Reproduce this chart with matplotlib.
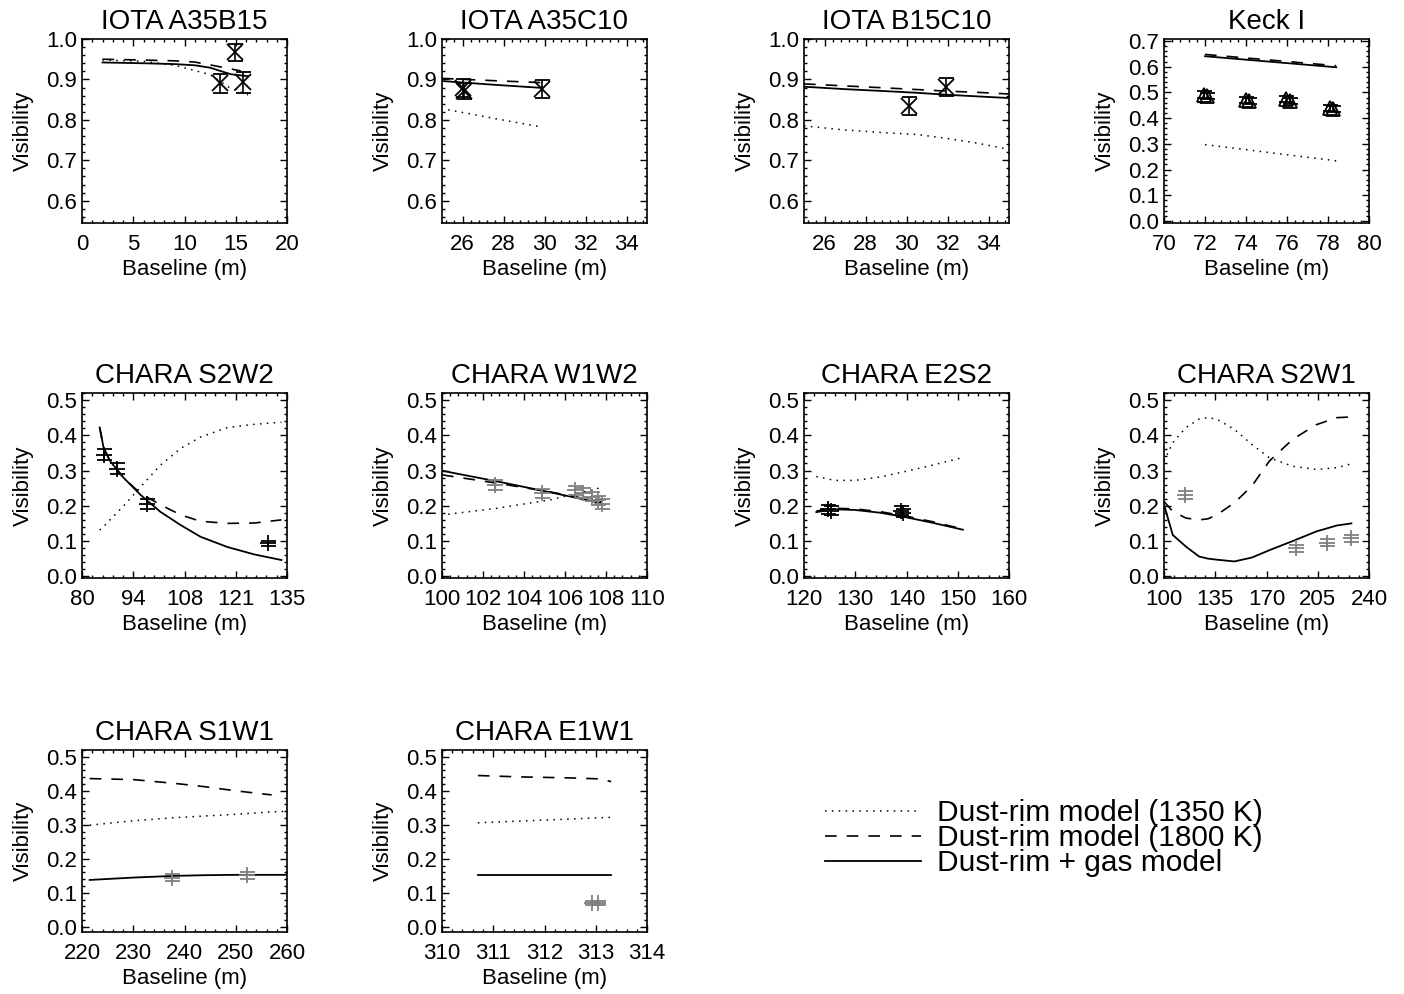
import numpy as np
import matplotlib
matplotlib.use("Agg")
import matplotlib.pyplot as plt
from matplotlib.ticker import AutoMinorLocator
from matplotlib.lines import Line2D

plt.rcParams['font.family'] = ['Liberation Sans', 'DejaVu Sans']

nan = np.nan

# ---------------- data ----------------
# each panel: model baseline grid, three model curves, then measured points
# dot = dust-rim 1350 K, dash = dust-rim 1800 K, gas = dust-rim + gas

# IOTA A35B15
a35b15_grid = [2, 6, 9, 11, 12.5, 13.5, 14.5, 15.5, 16.2]
a35b15_dot = [0.948, 0.945, 0.935, 0.922, 0.912, 0.895, 0.878, 0.868, 0.862]
a35b15_dash = [0.950, 0.948, 0.946, 0.943, 0.936, 0.931, 0.926, 0.921, nan]
a35b15_gas = [0.942, 0.940, 0.938, 0.935, 0.929, 0.921, 0.913, 0.910, 0.908]
a35b15_b = [13.5, 14.9, 15.7]
a35b15_v = [0.890, 0.967, 0.893]
a35b15_e = [0.023, 0.021, 0.026]

# IOTA A35C10
a35c10_grid = [25.0, 25.3, 27.5, 29.9]
a35c10_dot = [nan, 0.825, 0.804, 0.782]
a35c10_dash = [0.9025, 0.902, 0.897, 0.892]
a35c10_gas = [0.896, 0.895, 0.887, 0.879]
a35c10_b = [26.0, 26.05, 29.9]
a35c10_v = [0.878, 0.872, 0.877]
a35c10_e = [0.022, 0.020, 0.022]

# IOTA B15C10
b15c10_grid = [25, 27, 29, 30.5, 32, 33.5, 35]
b15c10_dot = [0.785, 0.775, 0.768, 0.764, 0.754, 0.742, 0.727]
b15c10_dash = [0.889, 0.884, 0.879, 0.875, 0.871, 0.868, 0.864]
b15c10_gas = [0.882, 0.876, 0.871, 0.867, 0.862, 0.858, 0.854]
b15c10_b = [30.13, 31.93]
b15c10_v = [0.835, 0.882]
b15c10_e = [0.022, 0.022]

# Keck I
keck_grid = [72.0, 78.4]
keck_dot = [0.297, 0.234]
keck_dash = [0.648, 0.604]
keck_gas = [0.641, 0.598]
keck_b = [71.95, 72.1, 74.0, 74.15, 75.95, 76.15, 78.1, 78.25]
keck_v = [0.492, 0.486, 0.470, 0.468, 0.474, 0.466, 0.438, 0.436]
keck_e = [0.012, 0.012, 0.012, 0.012, 0.012, 0.012, 0.012, 0.012]

# CHARA S2W2
s2w2_grid = [84.75, 85.8, 87.6, 91.2, 95.7, 101, 106.5, 111.8, 119, 126.2, 133.5]
s2w2_dot = [0.131, 0.141, 0.161, 0.200, 0.253, 0.315, 0.363, 0.395, 0.422, 0.431, 0.437]
s2w2_dash = [0.422, 0.364, 0.326, 0.279, 0.235, 0.203, 0.174, 0.156, 0.150, 0.151, 0.160]
s2w2_gas = [0.422, 0.364, 0.326, 0.279, 0.231, 0.183, 0.145, 0.112, 0.083, 0.062, 0.046]
s2w2_b = [85.9, 89.4, 97.4, 129.8]
s2w2_v = [0.345, 0.305, 0.205, 0.093]
s2w2_e = [0.016, 0.016, 0.015, 0.008]

# CHARA W1W2
w1w2_grid = [100.0, 100.3, 102.7, 105.3, 107.8]
w1w2_dot = [nan, 0.176, 0.193, 0.217, 0.252]
w1w2_dash = [0.288, 0.285, 0.264, 0.239, 0.211]
w1w2_gas = [0.300, 0.296, 0.269, 0.238, 0.207]
w1w2_b = [102.6, 104.9, 106.5, 106.9, 107.3, 107.6, 107.8]
w1w2_v = [0.259, 0.235, 0.244, 0.236, 0.226, 0.216, 0.205]
w1w2_e = [0.013, 0.013, 0.013, 0.013, 0.013, 0.013, 0.013]

# CHARA E2S2
e2s2_grid = [122.4, 126, 130, 135, 140, 145, 151]
e2s2_dot = [0.283, 0.272, 0.272, 0.282, 0.298, 0.315, 0.337]
e2s2_dash = [0.185, 0.193, 0.191, 0.183, 0.170, 0.155, 0.134]
e2s2_gas = [0.182, 0.190, 0.188, 0.180, 0.167, 0.152, 0.132]
e2s2_b = [124.7, 125.2, 139.0, 139.3]
e2s2_v = [0.190, 0.186, 0.186, 0.180]
e2s2_e = [0.012, 0.012, 0.012, 0.012]

# CHARA S2W1
s2w1_grid = [100, 106, 115, 124, 130, 136, 148, 160, 172, 188, 204, 218, 228]
s2w1_dot = [0.327, 0.379, 0.422, 0.446, 0.450, 0.446, 0.417, 0.374, 0.336, 0.312, 0.303, 0.308, 0.319]
s2w1_dash = [0.212, 0.184, 0.165, 0.160, 0.163, 0.174, 0.208, 0.256, 0.327, 0.389, 0.430, 0.450, 0.452]
s2w1_gas = [0.203, 0.117, 0.084, 0.056, 0.050, 0.047, 0.042, 0.053, 0.074, 0.100, 0.127, 0.144, 0.150]
s2w1_b = [114.6, 190.4, 211.0, 228.0]
s2w1_v = [0.231, 0.079, 0.095, 0.108]
s2w1_e = [0.012, 0.010, 0.010, 0.010]

# CHARA S1W1
s1w1_grid = [221.5, 230, 238, 244, 250, 257, 260]
s1w1_dot = [0.299, 0.312, 0.321, 0.326, 0.331, 0.338, 0.340]
s1w1_dash = [0.436, 0.433, 0.422, 0.412, 0.400, 0.388, nan]
s1w1_gas = [0.138, 0.145, 0.150, 0.152, 0.153, 0.153, 0.153]
s1w1_b = [237.5, 252.1]
s1w1_v = [0.145, 0.152]
s1w1_e = [0.010, 0.010]

# CHARA E1W1
e1w1_grid = [310.7, 311.5, 312.5, 313.1, 313.3]
e1w1_dot = [0.306, 0.311, 0.317, 0.321, 0.322]
e1w1_dash = [0.445, 0.441, 0.438, 0.435, 0.427]
e1w1_gas = [0.153, 0.153, 0.153, 0.153, 0.153]
e1w1_b = [312.93, 313.05]
e1w1_v = [0.071, 0.071]
e1w1_e = [0.006, 0.006]

# ---------------- figure ----------------
W, H = 1404, 994
fig = plt.figure(figsize=(W / 100, H / 100), dpi=100)

col_left = [82, 442, 804, 1164]
row_top = [39, 393, 750]
row_h = [184, 185, 182]
ax_w = 205

DOT = (0, (1, 3.5))
DASH = (0, (7, 6))
GRAY = '0.5'

panels = [
    # title, grid, dot, dash, gas, b, v, e, marker, colour, xlim, xticks, xlabels, ylim, yticks
    ("IOTA A35B15", a35b15_grid, a35b15_dot, a35b15_dash, a35b15_gas, a35b15_b, a35b15_v, a35b15_e,
     'x', 'k', (0, 20), [0, 5, 10, 15, 20], None, (0.545, 1.0), np.arange(0.6, 1.01, 0.1)),
    ("IOTA A35C10", a35c10_grid, a35c10_dot, a35c10_dash, a35c10_gas, a35c10_b, a35c10_v, a35c10_e,
     'x', 'k', (25, 35), [26, 28, 30, 32, 34], None, (0.545, 1.0), np.arange(0.6, 1.01, 0.1)),
    ("IOTA B15C10", b15c10_grid, b15c10_dot, b15c10_dash, b15c10_gas, b15c10_b, b15c10_v, b15c10_e,
     'x', 'k', (25, 35), [26, 28, 30, 32, 34], None, (0.545, 1.0), np.arange(0.6, 1.01, 0.1)),
    ("Keck I", keck_grid, keck_dot, keck_dash, keck_gas, keck_b, keck_v, keck_e,
     '^', 'k', (70, 80), [70, 72, 74, 76, 78, 80], None, (-0.008, 0.708), np.arange(0, 0.71, 0.1)),
    ("CHARA S2W2", s2w2_grid, s2w2_dot, s2w2_dash, s2w2_gas, s2w2_b, s2w2_v, s2w2_e,
     '+', 'k', (80, 135), [80, 93.75, 107.5, 121.25, 135], ['80', '94', '108', '121', '135'],
     (-0.005, 0.52), np.arange(0, 0.51, 0.1)),
    ("CHARA W1W2", w1w2_grid, w1w2_dot, w1w2_dash, w1w2_gas, w1w2_b, w1w2_v, w1w2_e,
     '+', GRAY, (100, 110), [100, 102, 104, 106, 108, 110], None, (-0.005, 0.52), np.arange(0, 0.51, 0.1)),
    ("CHARA E2S2", e2s2_grid, e2s2_dot, e2s2_dash, e2s2_gas, e2s2_b, e2s2_v, e2s2_e,
     '+', 'k', (120, 160), [120, 130, 140, 150, 160], None, (-0.005, 0.52), np.arange(0, 0.51, 0.1)),
    ("CHARA S2W1", s2w1_grid, s2w1_dot, s2w1_dash, s2w1_gas, s2w1_b, s2w1_v, s2w1_e,
     '+', GRAY, (100, 240), [100, 135, 170, 205, 240], None, (-0.005, 0.52), np.arange(0, 0.51, 0.1)),
    ("CHARA S1W1", s1w1_grid, s1w1_dot, s1w1_dash, s1w1_gas, s1w1_b, s1w1_v, s1w1_e,
     '+', GRAY, (220, 260), [220, 230, 240, 250, 260], None, (-0.015, 0.52), np.arange(0, 0.51, 0.1)),
    ("CHARA E1W1", e1w1_grid, e1w1_dot, e1w1_dash, e1w1_gas, e1w1_b, e1w1_v, e1w1_e,
     '+', GRAY, (310, 314), [310, 311, 312, 313, 314], None, (-0.015, 0.52), np.arange(0, 0.51, 0.1)),
]

for i, p in enumerate(panels):
    (title, grid, dot, dash, gas, b, v, e, mk, col,
     xlim, xt, xtl, ylim, yt) = p
    r, c = divmod(i, 4)
    left = col_left[c] / W
    bottom = 1 - (row_top[r] + row_h[r]) / H
    ax = fig.add_axes([left, bottom, ax_w / W, row_h[r] / H])

    ax.plot(grid, dot, color='k', ls=DOT, lw=1.1)
    ax.plot(grid, dash, color='k', ls=DASH, lw=1.2)
    ax.plot(grid, gas, color='k', ls='-', lw=1.3)

    ms = 10 if mk == '^' else 11
    ax.errorbar(b, v, yerr=e, fmt=mk, color=col, ms=ms, mew=1.3, mfc='none',
                capsize=5.4, capthick=1.2, elinewidth=1.2)

    ax.set_xlim(*xlim)
    ax.set_ylim(*ylim)
    ax.set_xticks(xt)
    if xtl is not None:
        ax.set_xticklabels(xtl)
    ax.set_yticks(yt)
    ax.set_yticklabels([f"{t:.1f}" for t in yt])
    ax.xaxis.set_minor_locator(AutoMinorLocator(5))
    ax.yaxis.set_minor_locator(AutoMinorLocator(5))
    ax.tick_params(which='both', direction='in', top=True, right=True, width=1)
    ax.tick_params(which='major', length=5)
    ax.tick_params(which='minor', length=2.5)
    ax.tick_params(axis='x', labelsize=16, pad=8)
    ax.tick_params(axis='y', labelsize=16, pad=3.5)
    for s in ax.spines.values():
        s.set_linewidth(1.2)

    ax.set_title(title, fontsize=20, pad=7)
    ax.set_xlabel("Baseline (m)", fontsize=16, labelpad=3)
    ax.set_ylabel("Visibility", fontsize=16, labelpad=9)

# legend in the empty lower-right area
handles = [
    Line2D([], [], color='k', ls=DOT, lw=1.1),
    Line2D([], [], color='k', ls=DASH, lw=1.2),
    Line2D([], [], color='k', ls='-', lw=1.3),
]
labels = ["Dust-rim model (1350 K)", "Dust-rim model (1800 K)", "Dust-rim + gas model"]
fig.legend(handles, labels, loc='upper left', bbox_to_anchor=(825 / W, 1 - 799 / H),
           frameon=False, fontsize=21.5, handlelength=3.2, handletextpad=0.55,
           labelspacing=-0.1, borderpad=0, borderaxespad=0)

fig.savefig("out.png", dpi=100)
